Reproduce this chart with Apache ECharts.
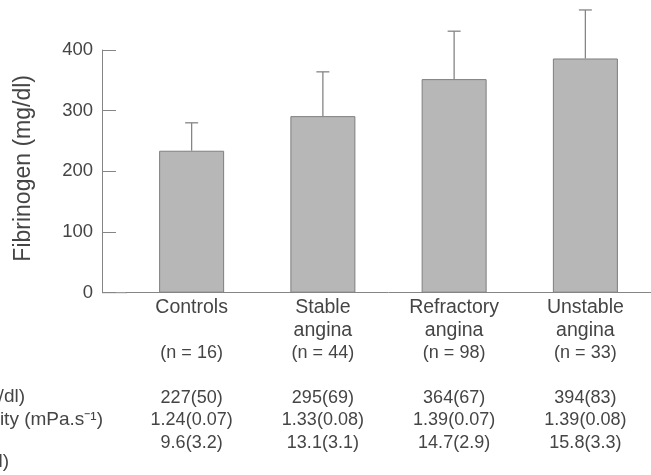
<!DOCTYPE html>
<html>
<head>
<meta charset="utf-8">
<script src="https://cdn.jsdelivr.net/npm/echarts@6/dist/echarts.min.js"></script>
<style>
  html, body { margin: 0; padding: 0; background: #fff; }
  #chart { width: 651px; height: 475px; }
</style>
</head>
<body>
<div id="chart"></div>
<script>
// groups on the x axis
var groupNames = ['Controls', 'Stable\nangina', 'Refractory\nangina', 'Unstable\nangina']
var groupSizes = [16, 44, 98, 33]
// bar heights and upper error (SD)
var fibrinogenMean = [234, 291, 352, 386]
var fibrinogenSD = [46, 73, 79, 80]
// table printed under the axis
var fibrinogenRow = ['227(50)', '295(69)', '364(67)', '394(83)']
var viscosityRow = ['1.24(0.07)', '1.33(0.08)', '1.39(0.07)', '1.39(0.08)']
var thirdRow = ['9.6(3.2)', '13.1(3.1)', '14.7(2.9)', '15.8(3.3)']
var yTicks = [0, 100, 200, 300, 400]

var textColor = '#454545'
var lineColor = '#858585'
var font = 'Liberation Sans, Arial, sans-serif'

var chart = echarts.init(document.getElementById('chart'))

chart.setOption({
  animation: false,
  grid: {
    left: 126,
    right: -3,
    top: 50,
    bottom: 182.3
  },
  xAxis: {
    type: 'category',
    data: groupNames,
    axisLine: { lineStyle: { color: lineColor, width: 1 } },
    axisTick: { show: false },
    axisLabel: {
      interval: 0,
      margin: 4,
      color: textColor,
      fontFamily: font,
      fontSize: 18,
      lineHeight: 22.5,
      verticalAlign: 'top',
      rich: {
        g: { fontFamily: font, fontSize: 19.5, lineHeight: 22.5, color: textColor },
        v: { fontFamily: font, fontSize: 18, lineHeight: 22.5, color: textColor }
      },
      formatter: function(value, i) {
        var lines = value.split('\n')
        if (lines.length < 2) lines.push(' ')
        return [
          '{g|' + lines[0] + '}', '{g|' + lines[1] + '}',
          '{v|(n = ' + groupSizes[i] + ')}',
          '{v| }',
          '{v|' + fibrinogenRow[i] + '}', '{v|' + viscosityRow[i] + '}', '{v|' + thirdRow[i] + '}'
        ].join('\n')
      }
    }
  },
  yAxis: {
    type: 'value',
    min: yTicks[0],
    max: yTicks[yTicks.length - 1],
    interval: 100,
    offset: 24,
    name: 'Fibrinogen (mg/dl)',
    nameLocation: 'middle',
    nameGap: 67,
    nameTextStyle: { color: textColor, fontFamily: font, fontSize: 23, padding: [0, 0, 0, 6] },
    axisLine: { show: true, lineStyle: { color: lineColor, width: 1 } },
    axisTick: { show: true, inside: true, length: 14, lineStyle: { color: lineColor } },
    splitLine: { show: false },
    axisLabel: { color: textColor, fontFamily: font, fontSize: 18.5, margin: 9 }
  },
  graphic: [
    // short stretch of the x axis between the y axis and the first band
    { type: 'line', shape: { x1: 102, y1: 292.7, x2: 127, y2: 292.7 }, style: { stroke: lineColor, lineWidth: 1 } },
    { type: 'text', right: 626, top: 387, style: { text: 'Fibrinogen (mg/dl)', fill: textColor, font: '19px ' + font } },
    { type: 'text', right: 548, top: 410, style: { text: 'Plasma viscosity (mPa.s\u207B\u00B9)', fill: textColor, font: '19px ' + font } },
    { type: 'text', right: 642, top: 452, style: { text: '(AU/ml)', fill: textColor, font: '19px ' + font } }
  ],
  series: [
    {
      type: 'bar',
      data: fibrinogenMean,
      barWidth: 65,
      itemStyle: { color: '#b7b7b7', borderColor: '#7e7e7e', borderWidth: 1 }
    },
    {
      type: 'custom',
      clip: false,
      data: fibrinogenMean.map(function(m, i) { return [i, m, m + fibrinogenSD[i]] }),
      renderItem: function(params, api) {
        var base = api.coord([api.value(0), api.value(1)])
        var top = api.coord([api.value(0), api.value(2)])
        var half = 6.5
        return {
          type: 'group',
          children: [
            { type: 'line', shape: { x1: base[0], y1: base[1], x2: top[0], y2: top[1] }, style: { stroke: lineColor, lineWidth: 1.3 } },
            { type: 'line', shape: { x1: top[0] - half, y1: top[1], x2: top[0] + half, y2: top[1] }, style: { stroke: lineColor, lineWidth: 1.3 } }
          ]
        }
      }
    }
  ]
})
</script>
</body>
</html>
